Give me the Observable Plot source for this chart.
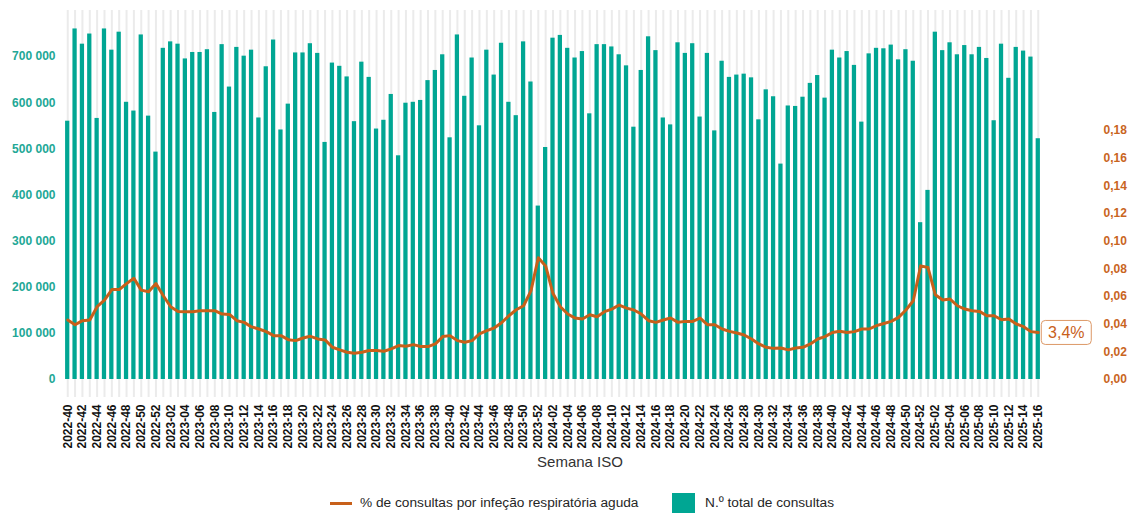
<!DOCTYPE html>
<html><head><meta charset="utf-8">
<script src="https://cdn.jsdelivr.net/npm/d3@7"></script>
<script src="https://cdn.jsdelivr.net/npm/@observablehq/plot@0.6"></script>
<style>
body{margin:0;background:#fff;font-family:"Liberation Sans",Arial,sans-serif;}
#chart{position:relative;width:1128px;height:513px;overflow:hidden;background:#fff;}
#chart svg{display:block;}
.legend{position:absolute;top:493px;left:0;width:1128px;height:20px;font-size:13.7px;color:#262626;}
.item{position:absolute;top:0;display:flex;align-items:center;height:20px;line-height:16px;white-space:nowrap;}
.sw-line{width:22px;height:3px;background:#c8601a;margin-right:8px;}
.sw-box{width:23px;height:20px;background:#00a693;margin-right:10px;}
</style></head><body><div id="chart"></div>
<script>
// ISO week ranges shown (year, first week, last week)
const seasons = [[2022, 40, 52], [2023, 1, 52], [2024, 1, 52], [2025, 1, 16]];
const weeks = seasons.flatMap(([y, a, b]) => d3.range(a, b + 1).map(w => `${y}-${String(w).padStart(2, "0")}`));

// N.º total de consultas
const totalConsultas = [
  560000, 760000, 727000, 749000, 566000, 760000, 714000, 753000, 601000, 582000, 747000, 571000, 493000,
  718000, 732000, 727000, 695000, 709000, 709000, 715000, 579000, 726000, 634000, 720000, 701000, 714000,
  567000, 678000, 736000, 541000, 597000, 708000, 708000, 728000, 707000, 514000, 686000, 679000, 656000,
  559000, 688000, 655000, 543000, 562000, 618000, 485000, 599000, 601000, 605000, 648000, 670000, 704000,
  524000, 747000, 614000, 697000, 550000, 714000, 660000, 729000, 601000, 572000, 732000, 645000, 376000,
  503000, 740000, 746000, 718000, 697000, 711000, 576000, 726000, 726000, 721000, 704000, 680000, 547000,
  670000, 743000, 713000, 567000, 552000, 730000, 707000, 728000, 569000, 707000, 539000, 690000, 655000,
  660000, 662000, 654000, 563000, 628000, 613000, 467000, 593000, 592000, 612000, 642000, 659000, 610000,
  714000, 697000, 711000, 681000, 558000, 706000, 718000, 717000, 725000, 693000, 715000, 690000, 340000,
  410000, 753000, 713000, 730000, 704000, 724000, 704000, 720000, 696000, 561000, 727000, 653000, 720000, 712000, 699000, 522000
];

// % de consultas por infeção respiratória aguda (fraction)
const pctIRA = [
  0.0430, 0.0396, 0.0425, 0.0430, 0.0526, 0.0574, 0.0650, 0.0650, 0.0693, 0.0732, 0.0646, 0.0634, 0.0693,
  0.0605, 0.0526, 0.0492, 0.0490, 0.0490, 0.0497, 0.0497, 0.0497, 0.0473, 0.0470, 0.0425, 0.0413, 0.0380,
  0.0365, 0.0346, 0.0317, 0.0317, 0.0288, 0.0281, 0.0300, 0.0312, 0.0293, 0.0286, 0.0233, 0.0214, 0.0197,
  0.0189, 0.0197, 0.0209, 0.0209, 0.0204, 0.0221, 0.0245, 0.0240, 0.0252, 0.0238, 0.0238, 0.0257, 0.0310,
  0.0317, 0.0281, 0.0269, 0.0281, 0.0329, 0.0353, 0.0372, 0.0410, 0.0461, 0.0504, 0.0533, 0.0641, 0.0880,
  0.0821, 0.0621, 0.0526, 0.0473, 0.0444, 0.0437, 0.0468, 0.0454, 0.0490, 0.0509, 0.0538, 0.0516, 0.0502,
  0.0473, 0.0425, 0.0413, 0.0430, 0.0444, 0.0413, 0.0420, 0.0420, 0.0444, 0.0396, 0.0396, 0.0365, 0.0348,
  0.0336, 0.0322, 0.0293, 0.0257, 0.0233, 0.0225, 0.0228, 0.0214, 0.0228, 0.0233, 0.0257, 0.0293, 0.0310,
  0.0340, 0.0348, 0.0340, 0.0346, 0.0365, 0.0365, 0.0389, 0.0405, 0.0420, 0.0449, 0.0502, 0.0569, 0.0821,
  0.0809, 0.0612, 0.0574, 0.0581, 0.0533, 0.0509, 0.0497, 0.0492, 0.0461, 0.0461, 0.0432, 0.0437, 0.0401, 0.0382, 0.0346, 0.0340
];

const leftTicks = [0, 100000, 200000, 300000, 400000, 500000, 600000, 700000];
const rightTicks = [0, 0.02, 0.04, 0.06, 0.08, 0.10, 0.12, 0.14, 0.16, 0.18];
const xLabel = "Semana ISO";
const legendLabels = ["% de consultas por infeção respiratória aguda", "N.º total de consultas"];

const K = 3000000; // secondary-axis mapping
const data = weeks.map((week, i) => ({week, total: totalConsultas[i], pct: pctIRA[i]}));
const last = data[data.length - 1];

const teal = "#00a693";
const orange = "#c8601a";

const roundRect = {
  draw(ctx) {
    const w = 50, h = 24, r = 4, x = -w / 2, y = -h / 2;
    ctx.moveTo(x + r, y);
    ctx.lineTo(x + w - r, y); ctx.arcTo(x + w, y, x + w, y + r, r);
    ctx.lineTo(x + w, y + h - r); ctx.arcTo(x + w, y + h, x + w - r, y + h, r);
    ctx.lineTo(x + r, y + h); ctx.arcTo(x, y + h, x, y + h - r, r);
    ctx.lineTo(x, y + r); ctx.arcTo(x, y, x + r, y, r);
    ctx.closePath();
  }
};

const fmtThousands = d => d3.format(",")(d).replace(/,/g, " ");

const chart = Plot.plot({
  width: 1128, height: 493,
  marginLeft: 62, marginRight: 85, marginTop: 10, marginBottom: 114,
  style: {fontFamily: "'Liberation Sans', Arial, sans-serif", background: "white", overflow: "visible"},
  x: {type: "band", domain: weeks, padding: 0.42},
  y: {domain: [0, 800000]},
  marks: [
    Plot.ruleX(weeks, {x: d => d, stroke: "#ebebeb", strokeWidth: 2, insetBottom: -18}),
    Plot.barY(data, {x: "week", y: "total", fill: teal}),
    Plot.line(data, {x: "week", y: d => d.pct * K, stroke: orange, strokeWidth: 3}),
    Plot.axisY({anchor: "left", ticks: leftTicks, tickFormat: fmtThousands, tickSize: 0, tickPadding: 7,
      fill: "#22a796", fontWeight: "bold", fontSize: 12, label: null}),
    Plot.axisY({anchor: "right", ticks: rightTicks.map(v => v * K),
      tickFormat: d => (d / K).toFixed(2).replace(".", ","), tickSize: 0, tickPadding: 60,
      fill: "#c9651e", fontWeight: "bold", fontSize: 12, label: null}),
    Plot.axisX({ticks: weeks.filter((d, i) => i % 2 === 0), tickRotate: -90, tickSize: 0, tickPadding: 25,
      fill: "#111", fontWeight: "bold", fontSize: 12, label: null}),
    Plot.text([xLabel], {text: d => d, frameAnchor: "bottom", dx: 27, dy: 87, fontSize: 15, fill: "#333"}),
    Plot.dot([last], {x: "week", y: d => d.pct * K, symbol: roundRect, r: 5, dx: 28,
      fill: "white", stroke: "#dc9866", strokeWidth: 1}),
    Plot.text([last], {x: "week", y: d => d.pct * K, text: d => (d.pct * 100).toFixed(1).replace(".", ",") + "%",
      dx: 28, fill: orange, fontSize: 16})
  ]
});

const root = document.getElementById("chart");
root.appendChild(chart);
const legend = document.createElement("div");
legend.className = "legend";
legend.innerHTML = `<div class="item" style="left:330px"><span class="sw-line"></span>${legendLabels[0]}</div>` +
  `<div class="item" style="left:672px"><span class="sw-box"></span>${legendLabels[1]}</div>`;
root.appendChild(legend);
</script>
</body></html>
